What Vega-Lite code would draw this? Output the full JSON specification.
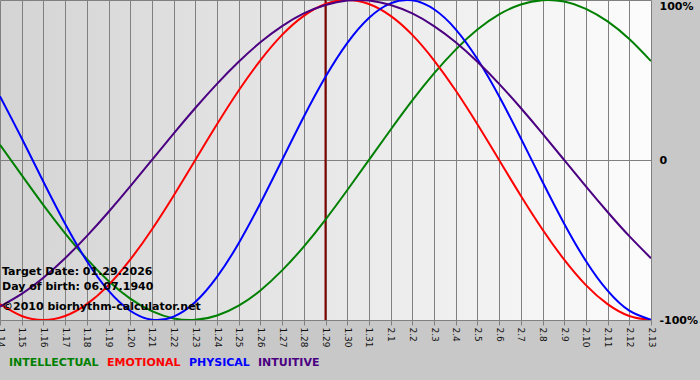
{
  "$schema": "https://vega.github.io/schema/vega-lite/v6.json",
  "width": 651,
  "height": 320,
  "autosize": {"type": "none"},
  "padding": {"left": 0, "top": 0, "right": 49, "bottom": 60},
  "background": "#c8c8c8",
  "config": {
    "view": {
      "stroke": null,
      "fill": {"gradient": "linear", "x1": 0, "y1": 0, "x2": 1, "y2": 0, "stops": [{"offset": 0, "color": "#d4d4d4"}, {"offset": 1, "color": "#fcfcfc"}]}
    },
    "font": "DejaVu Sans"
  },
  "datasets": {
    "bio": [
      {"date": "2026-01-14", "INTELLECTUAL": 9.5, "EMOTIONAL": -90.1, "PHYSICAL": 39.8, "INTUITIVE": -91.6},
      {"date": "2026-01-15", "INTELLECTUAL": -9.5, "EMOTIONAL": -97.5, "PHYSICAL": 13.6, "INTUITIVE": -83.7},
      {"date": "2026-01-16", "INTELLECTUAL": -28.2, "EMOTIONAL": -100, "PHYSICAL": -13.6, "INTUITIVE": -73.6},
      {"date": "2026-01-17", "INTELLECTUAL": -45.8, "EMOTIONAL": -97.5, "PHYSICAL": -39.8, "INTUITIVE": -61.4},
      {"date": "2026-01-18", "INTELLECTUAL": -61.8, "EMOTIONAL": -90.1, "PHYSICAL": -63.1, "INTUITIVE": -47.6},
      {"date": "2026-01-19", "INTELLECTUAL": -75.6, "EMOTIONAL": -78.2, "PHYSICAL": -81.7, "INTUITIVE": -32.5},
      {"date": "2026-01-20", "INTELLECTUAL": -86.6, "EMOTIONAL": -62.3, "PHYSICAL": -94.2, "INTUITIVE": -16.5},
      {"date": "2026-01-21", "INTELLECTUAL": -94.5, "EMOTIONAL": -43.4, "PHYSICAL": -99.8, "INTUITIVE": 0},
      {"date": "2026-01-22", "INTELLECTUAL": -99.0, "EMOTIONAL": -22.3, "PHYSICAL": -97.9, "INTUITIVE": 16.5},
      {"date": "2026-01-23", "INTELLECTUAL": -99.9, "EMOTIONAL": 0, "PHYSICAL": -88.8, "INTUITIVE": 32.5},
      {"date": "2026-01-24", "INTELLECTUAL": -97.2, "EMOTIONAL": 22.3, "PHYSICAL": -73.1, "INTUITIVE": 47.6},
      {"date": "2026-01-25", "INTELLECTUAL": -91.0, "EMOTIONAL": 43.4, "PHYSICAL": -52.0, "INTUITIVE": 61.4},
      {"date": "2026-01-26", "INTELLECTUAL": -81.5, "EMOTIONAL": 62.3, "PHYSICAL": -27.0, "INTUITIVE": 73.6},
      {"date": "2026-01-27", "INTELLECTUAL": -69.0, "EMOTIONAL": 78.2, "PHYSICAL": 0, "INTUITIVE": 83.7},
      {"date": "2026-01-28", "INTELLECTUAL": -54.1, "EMOTIONAL": 90.1, "PHYSICAL": 27.0, "INTUITIVE": 91.6},
      {"date": "2026-01-29", "INTELLECTUAL": -37.2, "EMOTIONAL": 97.5, "PHYSICAL": 52.0, "INTUITIVE": 96.9},
      {"date": "2026-01-30", "INTELLECTUAL": -18.9, "EMOTIONAL": 100, "PHYSICAL": 73.1, "INTUITIVE": 99.7},
      {"date": "2026-01-31", "INTELLECTUAL": 0, "EMOTIONAL": 97.5, "PHYSICAL": 88.8, "INTUITIVE": 99.7},
      {"date": "2026-02-01", "INTELLECTUAL": 18.9, "EMOTIONAL": 90.1, "PHYSICAL": 97.9, "INTUITIVE": 96.9},
      {"date": "2026-02-02", "INTELLECTUAL": 37.2, "EMOTIONAL": 78.2, "PHYSICAL": 99.8, "INTUITIVE": 91.6},
      {"date": "2026-02-03", "INTELLECTUAL": 54.1, "EMOTIONAL": 62.3, "PHYSICAL": 94.2, "INTUITIVE": 83.7},
      {"date": "2026-02-04", "INTELLECTUAL": 69.0, "EMOTIONAL": 43.4, "PHYSICAL": 81.7, "INTUITIVE": 73.6},
      {"date": "2026-02-05", "INTELLECTUAL": 81.5, "EMOTIONAL": 22.3, "PHYSICAL": 63.1, "INTUITIVE": 61.4},
      {"date": "2026-02-06", "INTELLECTUAL": 91.0, "EMOTIONAL": 0, "PHYSICAL": 39.8, "INTUITIVE": 47.6},
      {"date": "2026-02-07", "INTELLECTUAL": 97.2, "EMOTIONAL": -22.3, "PHYSICAL": 13.6, "INTUITIVE": 32.5},
      {"date": "2026-02-08", "INTELLECTUAL": 99.9, "EMOTIONAL": -43.4, "PHYSICAL": -13.6, "INTUITIVE": 16.5},
      {"date": "2026-02-09", "INTELLECTUAL": 99.0, "EMOTIONAL": -62.3, "PHYSICAL": -39.8, "INTUITIVE": 0},
      {"date": "2026-02-10", "INTELLECTUAL": 94.5, "EMOTIONAL": -78.2, "PHYSICAL": -63.1, "INTUITIVE": -16.5},
      {"date": "2026-02-11", "INTELLECTUAL": 86.6, "EMOTIONAL": -90.1, "PHYSICAL": -81.7, "INTUITIVE": -32.5},
      {"date": "2026-02-12", "INTELLECTUAL": 75.6, "EMOTIONAL": -97.5, "PHYSICAL": -94.2, "INTUITIVE": -47.6},
      {"date": "2026-02-13", "INTELLECTUAL": 61.8, "EMOTIONAL": -100, "PHYSICAL": -99.8, "INTUITIVE": -61.4}
    ],
    "target": [{"date": "2026-01-29"}],
    "notes": [
      {"date": "2026-01-14", "value": -70, "label": "Target Date: 01.29.2026"},
      {"date": "2026-01-14", "value": -79.5, "label": "Day of birth: 06.07.1940"},
      {"date": "2026-01-14", "value": -92, "label": "©2010 biorhythm-calculator.net"}
    ]
  },
  "encoding": {
    "x": {
      "field": "date",
      "type": "temporal",
      "scale": {"type": "utc", "nice": false},
      "axis": {
        "title": null,
        "orient": "bottom",
        "labelExpr": "utcFormat(datum.value, '%-m.%-d')",
        "tickCount": {"interval": "day", "step": 1},
        "labelAngle": 90,
        "labelFont": "DejaVu Sans",
        "labelFontSize": 9,
        "labelColor": "#111111",
        "labelPadding": 2,
        "labelOverlap": false,
        "labelFlush": false,
        "labelBound": false,
        "domain": false,
        "ticks": true,
        "tickSize": 5,
        "tickColor": "#808080",
        "grid": true,
        "gridColor": "#808080",
        "gridOpacity": 1,
        "gridWidth": 1
      }
    },
    "y": {
      "field": "value",
      "type": "quantitative",
      "scale": {"domain": [-100, 100], "nice": false, "zero": false},
      "axis": {
        "title": null,
        "orient": "right",
        "values": [-100, 0, 100],
        "labelExpr": "datum.value == 0 ? '0' : datum.value + '%'",
        "labelFont": "DejaVu Sans",
        "labelFontWeight": "bold",
        "labelFontSize": 11,
        "labelColor": "#000000",
        "labelAlign": "left",
        "labelBaseline": {"condition": {"test": "datum.value == 100", "value": "top"}, "value": "middle"},
        "labelPadding": 8,
        "labelFlush": false,
        "labelBound": false,
        "domain": false,
        "ticks": false,
        "grid": true,
        "gridColor": "#808080",
        "gridOpacity": 1,
        "gridWidth": 1
      }
    }
  },
  "layer": [
    {
      "data": {"name": "target"},
      "mark": {"type": "rule", "color": "#800000", "strokeWidth": 2},
      "encoding": {"y": null}
    },
    {
      "data": {"name": "bio"},
      "transform": [{"fold": ["INTELLECTUAL", "EMOTIONAL", "PHYSICAL", "INTUITIVE"], "as": ["series", "value"]}],
      "mark": {"type": "line", "strokeWidth": 2, "interpolate": "natural", "clip": true},
      "encoding": {
        "color": {
          "field": "series",
          "type": "nominal",
          "scale": {"domain": ["INTELLECTUAL", "EMOTIONAL", "PHYSICAL", "INTUITIVE"], "range": ["#008000", "#ff0000", "#0000ff", "#4b0082"]},
          "legend": {
            "title": null,
            "orient": "none",
            "legendX": 1,
            "legendY": 357,
            "direction": "horizontal",
            "symbolSize": 0,
            "symbolStrokeWidth": 0,
            "symbolOpacity": 0,
            "labelOffset": -3,
            "columnPadding": 0,
            "labelFont": "DejaVu Sans",
            "labelFontWeight": "bold",
            "labelFontSize": 11,
            "encode": {"labels": {"update": {"fill": {"scale": "color", "field": "value"}}}}
          }
        }
      }
    },
    {
      "data": {"name": "notes"},
      "mark": {"type": "text", "align": "left", "baseline": "middle", "dx": 2, "font": "DejaVu Sans", "fontWeight": "bold", "fontSize": 11, "color": "#000000"},
      "encoding": {"text": {"field": "label"}}
    }
  ]
}
